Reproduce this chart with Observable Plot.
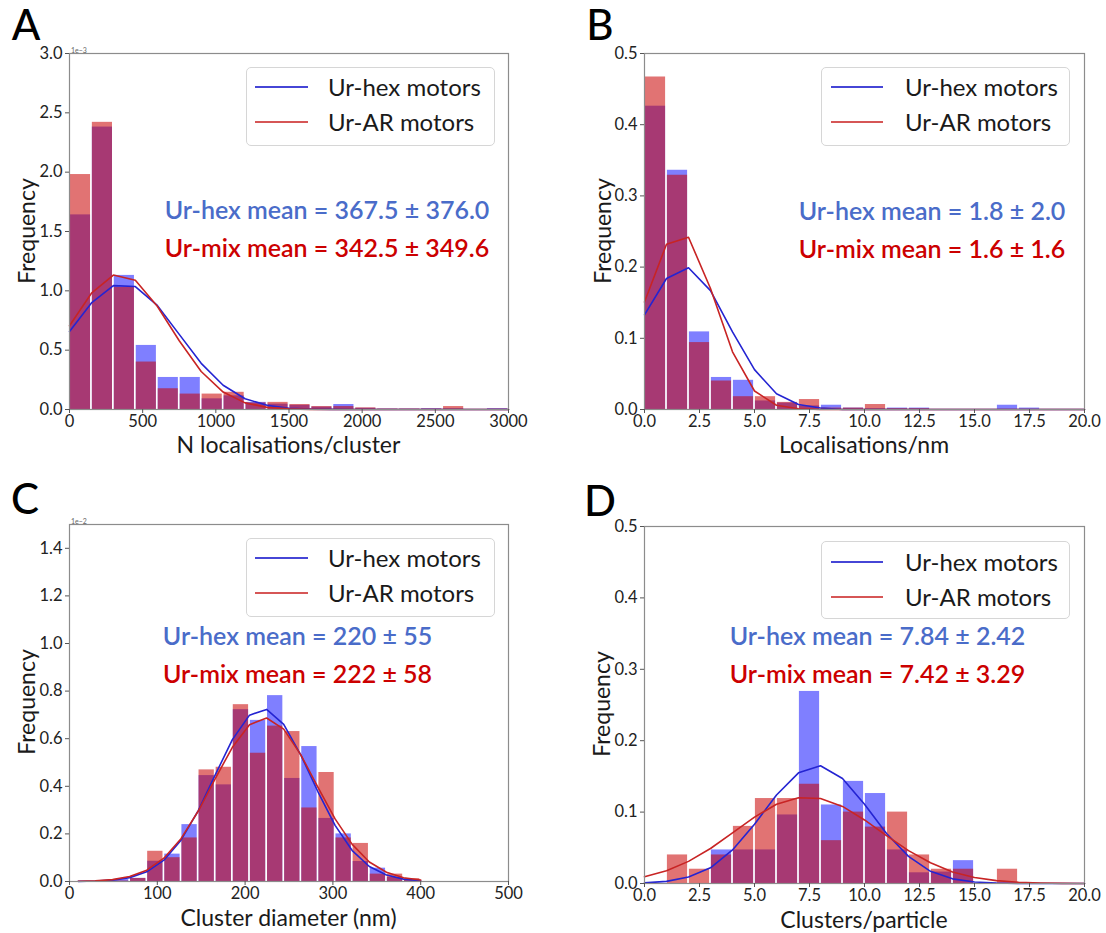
<!DOCTYPE html>
<html><head><meta charset="utf-8">
<script src="https://cdn.jsdelivr.net/npm/d3@7"></script>
<script src="https://cdn.jsdelivr.net/npm/@observablehq/plot@0.6"></script>
<style>
body{margin:0;background:#fff;}
#root{position:relative;width:1106px;height:933px;font-family:Lato,sans-serif;color:#111;overflow:hidden;}
.abs{position:absolute;white-space:nowrap;line-height:1;}
.c{transform:translate(-50%,-50%);}
.l{transform:translate(0,-50%);}
.rot{transform:translate(-50%,-50%) rotate(-90deg);}
.legend{position:absolute;border:1px solid #d6d6d6;border-radius:5px;background:rgba(255,255,255,0.85);box-sizing:border-box;}
.svgwrap{position:absolute;}
</style></head><body><div id="root"></div>
<script>
// ---------- Panel A : N localisations/cluster (x1e-3) ----------
const aEdges = [0,150,300,450,600,750,900,1050,1200,1350,1500,1650,1800,1950,2100,2250,2400,2550,2700,2850,3000];
const aHex = [1.64,2.38,1.13,0.54,0.27,0.27,0.09,0.115,0.06,0.045,0.035,0.02,0.042,0.01,0.003,0.003,0.007,0.005,0,0.007];
const aAR  = [1.98,2.42,1.03,0.40,0.175,0.13,0.13,0.145,0.055,0.06,0.042,0.025,0.025,0.014,0.003,0.003,0.003,0.025,0,0.002];
const aHexLine = [0.658,0.898,1.044,1.036,0.877,0.633,0.389,0.204,0.091,0.035,0.011,0.003,0.001,0,0,0,0,0,0,0,0];
const aARLine  = [0.706,0.980,1.133,1.089,0.870,0.579,0.320,0.147,0.056,0.018,0.005,0.001,0,0,0,0,0,0,0,0,0];
const aXTicks = [0,500,1000,1500,2000,2500,3000];
const aYTicks = [0,0.5,1.0,1.5,2.0,2.5,3.0];

// ---------- Panel B : Localisations/nm ----------
const bEdges = [0,1,2,3,4,5,6,7,8,9,10,11,12,13,14,15,16,17,18,19,20];
const bHex = [0.426,0.336,0.109,0.045,0.041,0.012,0.009,0.005,0.006,0.002,0.001,0.002,0.002,0,0,0,0.006,0.002,0,0];
const bAR  = [0.467,0.329,0.094,0.040,0.018,0.018,0.010,0.014,0.002,0.002,0.007,0.001,0.001,0,0,0,0,0,0,0];
const bHexLine = [0.133,0.184,0.199,0.167,0.109,0.056,0.022,0.007,0.002,0,0,0,0,0,0,0,0,0,0,0,0];
const bARLine  = [0.151,0.232,0.242,0.170,0.081,0.026,0.006,0.001,0,0,0,0,0,0,0,0,0,0,0,0,0];
const bXTicks = [0,2.5,5,7.5,10,12.5,15,17.5,20];
const bYTicks = [0,0.1,0.2,0.3,0.4,0.5];

// ---------- Panel C : Cluster diameter (nm) (x1e-2) ----------
const cEdges = [10,29.5,49,68.5,88,107.5,127,146.5,166,185.5,205,224.5,244,263.5,283,302.5,322,341.5,361,380.5,400];
const cHex = [0,0.003,0.008,0.013,0.085,0.115,0.239,0.445,0.406,0.722,0.677,0.781,0.433,0.567,0.265,0.20,0.084,0.056,0.017,0.005];
const cAR  = [0,0.002,0.002,0.013,0.127,0.100,0.183,0.469,0.480,0.743,0.539,0.653,0.630,0.309,0.458,0.183,0.160,0.031,0.031,0.012];
const cHexLine = [0.0005,0.0018,0.0058,0.0163,0.0407,0.0897,0.1736,0.297,0.448,0.596,0.699,0.723,0.660,0.531,0.377,0.236,0.130,0.063,0.027,0.010,0.003];
const cARLine  = [0.0009,0.0028,0.008,0.0207,0.0477,0.098,0.180,0.295,0.432,0.564,0.659,0.687,0.640,0.532,0.396,0.263,0.156,0.082,0.039,0.016,0.006];
const cXTicks = [0,100,200,300,400,500];
const cYTicks = [0,0.2,0.4,0.6,0.8,1.0,1.2,1.4];

// ---------- Panel D : Clusters/particle ----------
const dEdges = [0,1,2,3,4,5,6,7,8,9,10,11,12,13,14,15,16,17,18,19,20];
const dHex = [0,0,0,0.047,0.047,0.047,0.096,0.269,0.110,0.143,0.126,0.047,0.015,0.016,0.032,0,0,0,0,0];
const dAR  = [0,0.040,0.020,0.040,0.080,0.119,0.119,0.139,0.060,0.100,0.079,0.100,0.040,0.020,0.020,0,0.020,0,0,0];
const dHexLine = [0.0009,0.003,0.009,0.022,0.047,0.083,0.124,0.155,0.165,0.147,0.111,0.070,0.038,0.017,0.0065,0.002,0.0006,0.0001,0,0,0];
const dARLine  = [0.0095,0.018,0.031,0.049,0.071,0.093,0.111,0.120,0.119,0.108,0.089,0.067,0.046,0.029,0.016,0.0085,0.004,0.0017,0.0007,0.0002,0.0001];
const dXTicks = [0,2.5,5,7.5,10,12.5,15,17.5,20];
const dYTicks = [0,0.1,0.2,0.3,0.4,0.5];

// ---------- Texts ----------
const seriesNames = ["Ur-hex motors","Ur-AR motors"];
const meanHex = ["Ur-hex mean = 367.5 ± 376.0","Ur-hex mean = 1.8 ± 2.0","Ur-hex mean = 220 ± 55","Ur-hex mean = 7.84 ± 2.42"];
const meanMix = ["Ur-mix mean = 342.5 ± 349.6","Ur-mix mean = 1.6 ± 1.6","Ur-mix mean = 222 ± 58","Ur-mix mean = 7.42 ± 3.29"];
const xLabels = ["N localisations/cluster","Localisations/nm","Cluster diameter (nm)","Clusters/particle"];
const yLabel = "Frequency";
const letters = ["A","B","C","D"];
const exponents = ["1e\u22123", null, "1e\u22122", null];

const BLUE_BAR = "#0000ff", RED_BAR = "#c80000";
const BLUE_LINE = "#2424d2", RED_LINE = "#c82424";
const BLUE_TXT = "#4a6cc9", RED_TXT = "#cc0000";

function bars(edges, vals){ return vals.map((v,i)=>({x1:edges[i], x2:edges[i+1], y1:0, y2:v})); }
function pts(xs, ys){ return ys.map((y,i)=>({x:xs[i], y})); }

const panels = [
  {left:0, top:0, width:553, height:470, m:[53,45,61,69], xd:[0,3000], yd:[0,3],
   edges:aEdges, hex:aHex, ar:aAR, hl:aHexLine, al:aARLine, xt:aXTicks, yt:aYTicks, xf:d3.format("d"),
   legend:{x:246,y:67,w:249,h:79,r1:87,r2:122,l1:255,l2:308,tx:328},
   mean:{cx:327,y1:209,y2:247}, xl:{x:288.5,y:444}, yl:{x:26,y:231}, letter:{x:26,y:24}, exp:{x:71,y:47}},
  {left:560, top:0, width:546, height:470, m:[53,22,61,84], xd:[0,20], yd:[0,0.5],
   edges:bEdges, hex:bHex, ar:bAR, hl:bHexLine, al:bARLine, xt:bXTicks, yt:bYTicks, xf:d3.format(".1f"),
   legend:{x:821,y:67,w:249,h:79,r1:87,r2:122,l1:831,l2:883,tx:905},
   mean:{cx:932,y1:210,y2:248}, xl:{x:864,y:444}, yl:{x:602,y:231}, letter:{x:600,y:24}},
  {left:0, top:470, width:553, height:463, m:[54,45,52,69], xd:[0,500], yd:[0,1.5],
   edges:cEdges, hex:cHex, ar:cAR, hl:cHexLine, al:cARLine, xt:cXTicks, yt:cYTicks, xf:d3.format("d"),
   legend:{x:246,y:538,w:249,h:79,r1:558,r2:593,l1:255,l2:308,tx:328},
   mean:{cx:297.5,y1:635,y2:673}, xl:{x:288.5,y:917}, yl:{x:26,y:702}, letter:{x:25,y:498}, exp:{x:71,y:518}},
  {left:560, top:470, width:546, height:463, m:[56,22,50,84], xd:[0,20], yd:[0,0.5],
   edges:dEdges, hex:dHex, ar:dAR, hl:dHexLine, al:dARLine, xt:dXTicks, yt:dYTicks, xf:d3.format(".1f"),
   legend:{x:821,y:541,w:249,h:78,r1:562,r2:597,l1:831,l2:883,tx:905},
   mean:{cx:877.5,y1:635,y2:673}, xl:{x:864,y:919}, yl:{x:601,y:704}, letter:{x:600,y:500}}
];

const root = document.getElementById("root");
function addDiv(cls, text, x, y, style){
  const d = document.createElement("div");
  d.className = "abs " + cls;
  d.textContent = text;
  d.style.left = x + "px"; d.style.top = y + "px";
  Object.assign(d.style, style || {});
  root.appendChild(d);
  return d;
}

panels.forEach((p, i) => {
  const lineX = p.edges;
  const chart = Plot.plot({
    width: p.width, height: p.height,
    marginTop: p.m[0], marginRight: p.m[1], marginBottom: p.m[2], marginLeft: p.m[3],
    x: {domain: p.xd},
    y: {domain: p.yd},
    style: {fontFamily: "Lato, sans-serif", fontSize: "16.5px", color: "#222", background: "transparent", overflow: "visible"},
    marks: [
      Plot.rect(bars(p.edges, p.hex), {x1:"x1", x2:"x2", y1:"y1", y2:"y2", fill: BLUE_BAR, fillOpacity: 0.5, insetLeft: 0.9, insetRight: 0.9}),
      Plot.rect(bars(p.edges, p.ar), {x1:"x1", x2:"x2", y1:"y1", y2:"y2", fill: RED_BAR, fillOpacity: 0.55, insetLeft: 0.9, insetRight: 0.9}),
      Plot.line(pts(lineX, p.hl), {x:"x", y:"y", stroke: BLUE_LINE, strokeWidth: 1.6}),
      Plot.line(pts(lineX, p.al), {x:"x", y:"y", stroke: RED_LINE, strokeWidth: 1.6}),
      Plot.frame({stroke: "#8c8c8c", strokeWidth: 1.2}),
      Plot.axisX({ticks: p.xt, tickFormat: p.xf, tickSize: 4, tickPadding: 2, stroke: "#555", fill: "#222", fontSize: 16.5, label: null}),
      Plot.axisY({ticks: p.yt, tickFormat: d3.format(".1f"), tickSize: 4, tickPadding: 3, stroke: "#555", fill: "#222", fontSize: 16.5, label: null})
    ]
  });
  const wrap = document.createElement("div");
  wrap.className = "svgwrap";
  wrap.style.left = p.left + "px"; wrap.style.top = p.top + "px";
  wrap.appendChild(chart);
  root.appendChild(wrap);

  // legend
  const L = p.legend;
  const box = document.createElement("div");
  box.className = "legend";
  Object.assign(box.style, {left: L.x + "px", top: L.y + "px", width: L.w + "px", height: L.h + "px"});
  root.appendChild(box);
  [[L.r1, "#4646d6", seriesNames[0]], [L.r2, "#d65656", seriesNames[1]]].forEach(([ry, col, name]) => {
    const ln = document.createElement("div");
    Object.assign(ln.style, {position:"absolute", left: L.l1 + "px", top: (ry - 0.6) + "px", width: (L.l2 - L.l1) + "px", height: "1.2px", background: col});
    root.appendChild(ln);
    addDiv("l", name, L.tx, ry, {fontSize: "24px", color: "#1a1a1a"});
  });

  // mean texts
  addDiv("c", meanHex[i], p.mean.cx, p.mean.y1, {fontSize: "25px", fontWeight: "600", color: BLUE_TXT});
  addDiv("c", meanMix[i], p.mean.cx, p.mean.y2, {fontSize: "25px", fontWeight: "600", color: RED_TXT});

  // axis labels
  addDiv("c", xLabels[i], p.xl.x, p.xl.y, {fontSize: "23px", color: "#1a1a1a"});
  addDiv("rot", yLabel, p.yl.x, p.yl.y, {fontSize: "23px", color: "#1a1a1a"});

  // panel letter
  addDiv("c", letters[i], p.letter.x, p.letter.y, {fontSize: "42px", fontWeight: "500", color: "#000"});

  // exponent
  if (exponents[i]) addDiv("", exponents[i], p.exp.x, p.exp.y, {fontSize: "7px", color: "#666"});
});
</script></body></html>
